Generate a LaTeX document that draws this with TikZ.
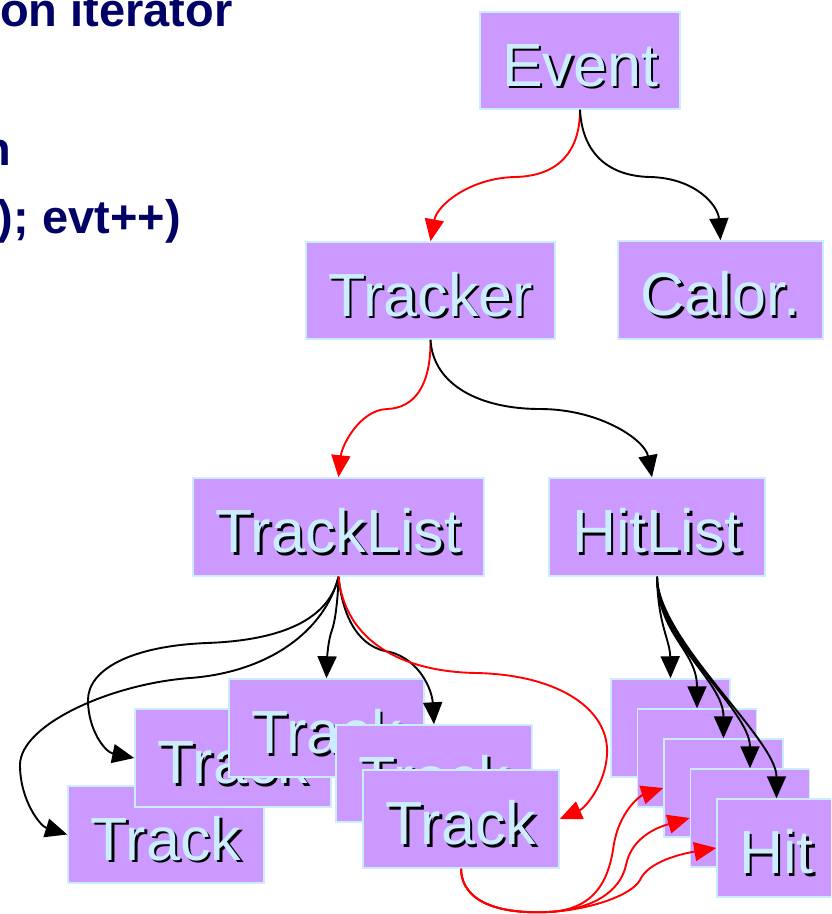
\documentclass[tikz,border=0pt]{standalone}
\usepackage{fontspec}
\setmainfont{Liberation Sans}
\usetikzlibrary{arrows.meta,calc}
\definecolor{boxpurple}{RGB}{204,153,255}
\definecolor{boxedge}{RGB}{204,236,255}
\definecolor{slidenavy}{RGB}{0,0,102}
\tikzset{
  pbox/.style={rectangle, draw=boxedge, fill=boxpurple, line width=1.5pt, inner sep=0pt},
  ptxt/.style={anchor=base, inner sep=0pt, font=\fontsize{61}{61}\selectfont},
  slidetxt/.style={inner sep=0pt, text=slidenavy, font=\bfseries\fontsize{47}{47}\selectfont},
  conn/.style={line width=1.9pt, -{Triangle[length=22pt,width=19pt]}},
  blk/.style={conn, color=black},
  rd/.style={conn, color=red},
}
\newcommand{\drawpbox}[6]{%
  \node[pbox, minimum width=#4pt, minimum height=#5pt] (#1) at (#2,#3) {};
  \node[ptxt, text=black] at (#2+2.5,#3+28.3) {#6};
  \node[ptxt, text=boxedge] at (#2,#3+25.8) {#6};
}
\begin{document}
\begin{tikzpicture}[x=1pt,y=-1pt]
\useasboundingbox (0,0) rectangle (831,914);
\clip (0,0) rectangle (831,914);

% slide text fragments
\node[slidetxt, anchor=base west] (t1) at (0,26) {on iterator};
\node[slidetxt, anchor=base east] (t2) at (11.5,165) {n};
\node[slidetxt, anchor=base east] (t3) at (181,233) {); evt++)};

% boxes
\drawpbox{event}{580}{60.5}{200}{97}{Event}
\drawpbox{tracker}{430.5}{290.5}{249}{97}{Tracker}
\drawpbox{calor}{720.5}{290}{205}{98}{Calor.}
\drawpbox{tracklist}{338.5}{527}{291}{98}{TrackList}
\drawpbox{hitlist}{657}{527}{216}{98}{HitList}

\drawpbox{trackA}{166}{834.5}{196}{97}{Track}
\drawpbox{trackB}{233}{758}{196}{98}{Track}
\drawpbox{trackC}{326.5}{728}{195}{98}{Track}
\drawpbox{trackD}{434}{773.5}{196}{97}{Track}
\drawpbox{trackE}{461}{819}{196}{98}{Track}

\drawpbox{hA}{670.5}{728}{119}{98}{Hit}
\drawpbox{hB}{697}{758}{119}{98}{Hit}
\drawpbox{hC}{723.5}{788}{119}{98}{Hit}
\drawpbox{hD}{750}{818}{119}{98}{Hit}
\drawpbox{hE}{776.5}{848}{119}{98}{Hit}

% connectors from Event
\draw[rd] (event.south) .. controls (580,150) and (560,176) .. (515,177)
  .. controls (470,178) and (437,205) .. (tracker.north);
\draw[blk] (event.south) .. controls (582,150) and (605,176) .. (650,177)
  .. controls (695,178) and (718,205) .. (calor.north);

% connectors from Tracker
\draw[rd] (tracker.south) .. controls (431,385) and (415,408) .. (387,409)
  .. controls (360,410) and (342,445) .. (tracklist.north);
\draw[blk] (tracker.south) .. controls (433,385) and (480,409) .. (540,409)
  .. controls (600,409) and (645,440) .. ([xshift=-5pt]hitlist.north);

% connectors from TrackList
\draw[blk] (tracklist.south) .. controls (325,630) and (270,672) .. (190,678)
  .. controls (110,684) and (20,725) .. (20,765)
  .. controls (20,800) and (40,826) .. (trackA.west);
\draw[blk] (tracklist.south) .. controls (330,615) and (290,640) .. (207,643)
  .. controls (130,646) and (88,670) .. (88,700)
  .. controls (88,730) and (105,752) .. (trackB.west);
\draw[blk] (tracklist.south) .. controls (338,600) and (335,622) .. (332,630)
  .. controls (328,640) and (327,660) .. (trackC.north);
\draw[blk] (tracklist.south) .. controls (343,620) and (360,648) .. (390,652)
  .. controls (420,660) and (432,690) .. (trackD.north);
\draw[rd] (tracklist.south) .. controls (345,640) and (400,672) .. (477,673)
  .. controls (560,675) and (610,710) .. (607,755)
  .. controls (605,785) and (585,808) .. (trackE.east);

% connectors from HitList
\draw[blk] (hitlist.south) .. controls (658,625) and (670,640) .. (hA.north);
\draw[blk] (hitlist.south) .. controls (658,635) and (697,650) .. (hB.north);
\draw[blk] (hitlist.south) .. controls (658,640) and (723.5,680) .. (hC.north);
\draw[blk] (hitlist.south) .. controls (658,640) and (750,710) .. (hD.north);
\draw[blk] (hitlist.south) .. controls (658,640) and (776.5,739) .. (hE.north);

% connectors from the front Track to Hits
\draw[rd] (trackE.south) .. controls (462,905) and (505,914) .. (548,912)
  .. controls (595,910) and (608,880) .. (613,850)
  .. controls (618,810) and (642,795) .. (hC.west);
\draw[rd] (trackE.south) .. controls (462,905) and (505,914) .. (548,912)
  .. controls (590,910) and (620,893) .. (626,865)
  .. controls (632,835) and (662,826) .. (hD.west);
\draw[rd] (trackE.south) .. controls (462,905) and (505,914) .. (548,912)
  .. controls (590,910) and (632,895) .. (640,880)
  .. controls (648,862) and (680,854) .. (hE.west);
\end{tikzpicture}
\end{document}
